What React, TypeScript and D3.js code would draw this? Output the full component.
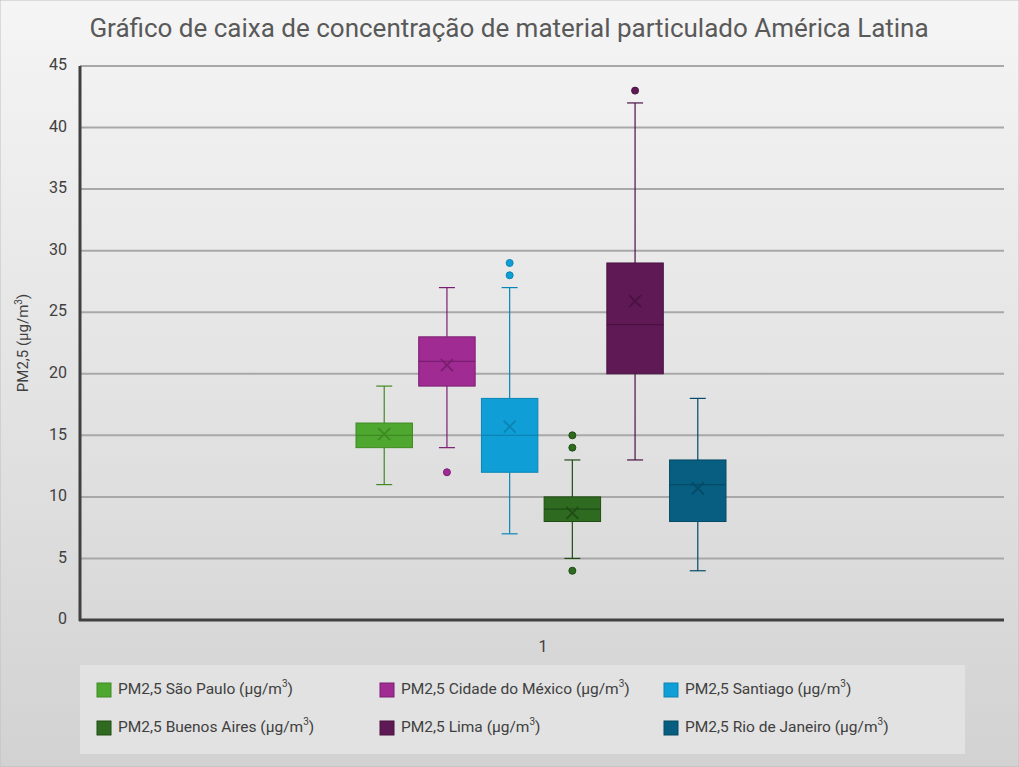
import * as d3 from "d3";

const cities = ["São Paulo", "Cidade do México", "Santiago", "Buenos Aires", "Lima", "Rio de Janeiro"];
const mins = [11, 14, 7, 5, 13, 4];
const q1s = [14, 19, 12, 8, 20, 8];
const medians = [15, 21, 15, 9, 24, 11];
const q3s = [16, 23, 18, 10, 29, 13];
const maxs = [19, 27, 27, 13, 42, 18];
const means = [15.1, 20.7, 15.7, 8.7, 25.9, 10.7];
const outliers = [[], [12], [28, 29], [4, 14, 15], [43], []];
const fills = ["#4EA72E", "#A02B93", "#0F9ED5", "#2E6A1F", "#5F1A55", "#075E80"];
const strokes = ["#3F8A24", "#7A1E70", "#0B85B5", "#1F4D14", "#4A1242", "#054A66"];
const yTicks = [0, 5, 10, 15, 20, 25, 30, 35, 40, 45];

const font = "'Liberation Sans Narrow', 'Roboto', sans-serif";

export default function App() {
  const width = 1019;
  const height = 767;
  const left = 80, right = 1004, top = 66, bottom = 620;
  const y = d3.scaleLinear().domain([0, 45]).range([bottom, top]);
  const x = d3.scaleBand().domain(cities).range([356, 726]).paddingInner(0.1).paddingOuter(0);
  const bw = x.bandwidth();

  return (
    <div style={{ position: "fixed", left: 0, top: 0 }}>
      <svg width={width} height={height} style={{ display: "block" }} fontFamily={font}>
        <defs>
          <linearGradient id="bg" x1="0" y1="0" x2="0" y2="1">
            <stop offset="0" stopColor="#f5f5f5" />
            <stop offset="1" stopColor="#d2d2d2" />
          </linearGradient>
        </defs>
        <rect x={0} y={0} width={width} height={height} fill="url(#bg)" stroke="#bfbfbf" />
        <text x={509} y={37} textAnchor="middle" fontSize={26} fill="#595959">
          Gráfico de caixa de concentração de material particulado América Latina
        </text>

        {yTicks.map((t) => (
          <g key={t}>
            {t > 0 && (
              <line x1={left} x2={right} y1={y(t)} y2={y(t)} stroke="#a8a8a8" strokeWidth={2} />
            )}
            <text x={67} y={y(t)} textAnchor="end" dominantBaseline="middle" fontSize={16} fill="#404040">
              {t}
            </text>
          </g>
        ))}
        <text transform={`translate(28,343) rotate(-90)`} textAnchor="middle" fontSize={15} fill="#404040">
          PM2,5 (µg/m<tspan dy={-6} fontSize={10}>3</tspan><tspan dy={6}>)</tspan>
        </text>

        {cities.map((c, i) => {
          const x0 = x(c) ?? 0;
          const cx = x0 + bw / 2;
          return (
            <g key={c}>
              <line x1={cx} x2={cx} y1={y(maxs[i])} y2={y(q3s[i])} stroke={strokes[i]} strokeWidth={1.2} />
              <line x1={cx} x2={cx} y1={y(q1s[i])} y2={y(mins[i])} stroke={strokes[i]} strokeWidth={1.2} />
              <line x1={cx - 8} x2={cx + 8} y1={y(maxs[i])} y2={y(maxs[i])} stroke={strokes[i]} strokeWidth={1.2} />
              <line x1={cx - 8} x2={cx + 8} y1={y(mins[i])} y2={y(mins[i])} stroke={strokes[i]} strokeWidth={1.2} />
              <rect x={x0} y={y(q3s[i])} width={bw} height={y(q1s[i]) - y(q3s[i])} fill={fills[i]} stroke={strokes[i]} strokeWidth={1} />
              <line x1={x0} x2={x0 + bw} y1={y(medians[i])} y2={y(medians[i])} stroke={strokes[i]} strokeWidth={1.2} />
              <path
                d={`M${cx - 6},${y(means[i]) - 6}L${cx + 6},${y(means[i]) + 6}M${cx + 6},${y(means[i]) - 6}L${cx - 6},${y(means[i]) + 6}`}
                stroke={strokes[i]}
                strokeWidth={1.8}
              />
              {outliers[i].map((o) => (
                <circle key={o} cx={cx} cy={y(o)} r={3.5} fill={fills[i]} stroke={strokes[i]} />
              ))}
            </g>
          );
        })}

        <line x1={left} x2={left} y1={top} y2={bottom + 1} stroke="#404040" strokeWidth={3} />
        <line x1={left - 1} x2={right} y1={bottom} y2={bottom} stroke="#404040" strokeWidth={3} />
        <text x={543} y={652} textAnchor="middle" fontSize={16} fill="#404040">1</text>

        <rect x={80} y={665} width={885} height={89} fill="#e2e2e2" />
        {cities.map((c, i) => {
          const lx = [97, 380, 664][i % 3];
          const ly = i < 3 ? 690 : 728;
          return (
            <g key={c}>
              <rect x={lx} y={ly - 7} width={14} height={14} fill={fills[i]} stroke={strokes[i]} />
              <text x={lx + 21} y={ly} dominantBaseline="middle" fontSize={15.5} fill="#404040">
                PM2,5 {c} (µg/m<tspan dy={-6} fontSize={10}>3</tspan><tspan dy={6}>)</tspan>
              </text>
            </g>
          );
        })}
      </svg>
    </div>
  );
}
